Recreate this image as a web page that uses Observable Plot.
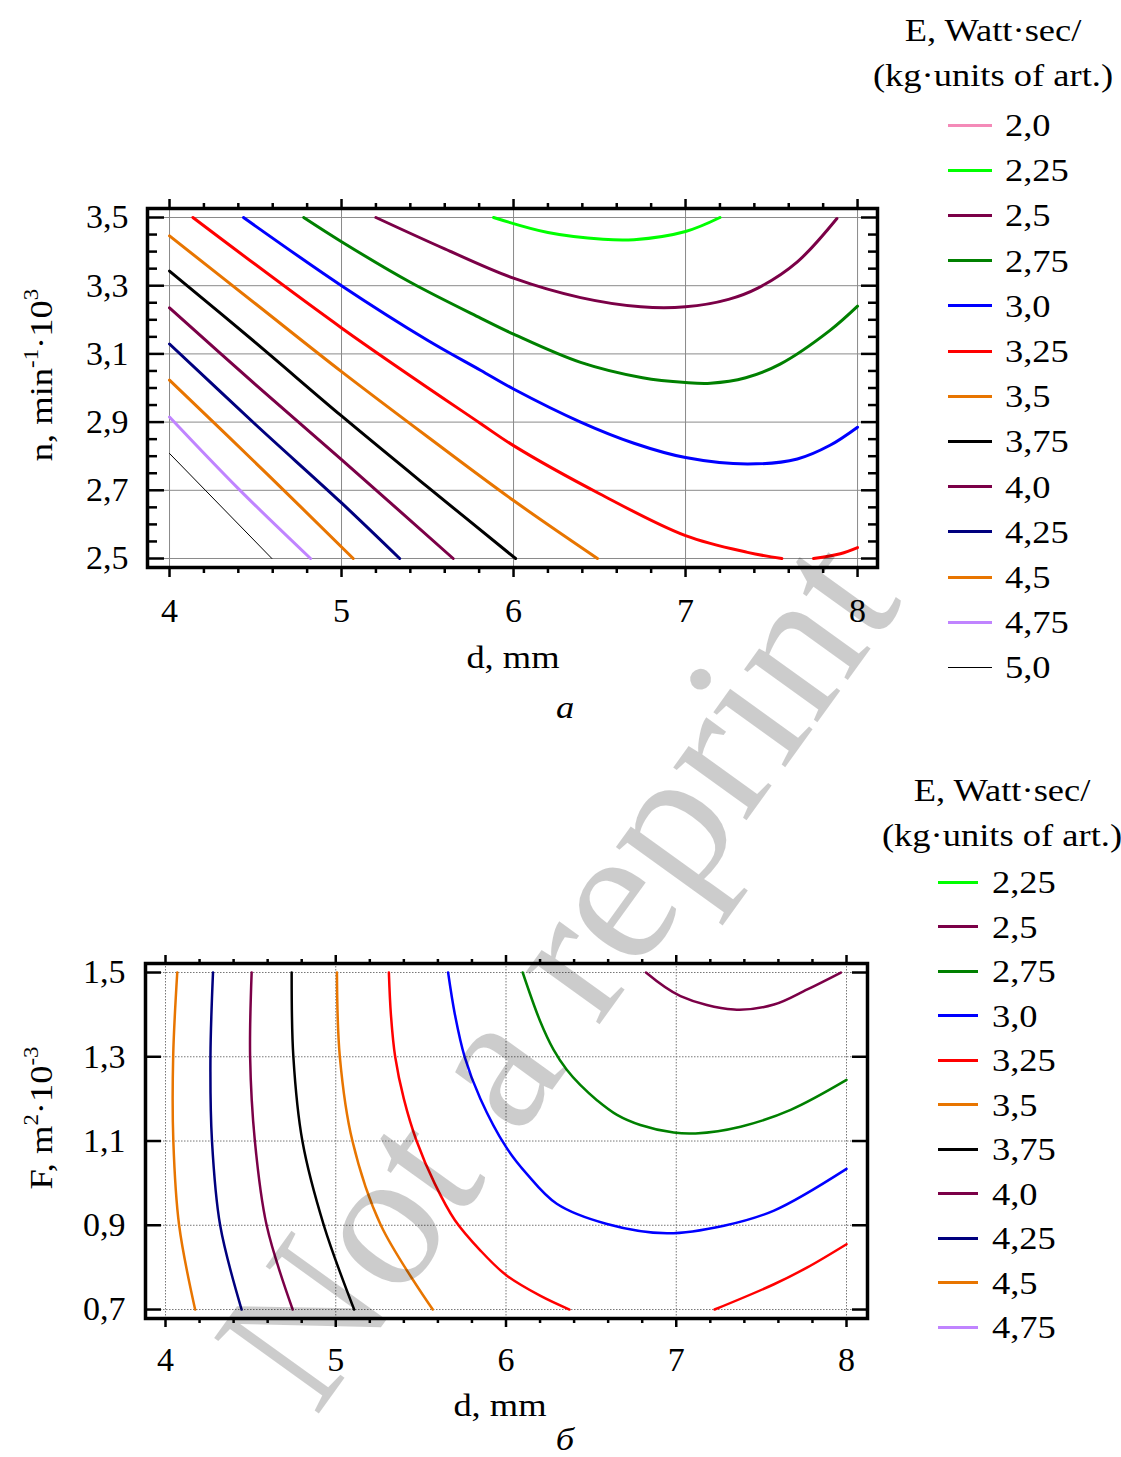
<!DOCTYPE html>
<html><head><meta charset="utf-8">
<script src="https://cdn.jsdelivr.net/npm/d3@7"></script>
<script src="https://cdn.jsdelivr.net/npm/@observablehq/plot@0.6"></script>
<style>
body{margin:0;background:#fff;}
#root{position:relative;width:1121px;height:1457px;overflow:hidden;font-family:"Liberation Serif","Times New Roman",serif;color:#000;}
.abs{position:absolute;white-space:nowrap;line-height:1;}
.t32{font-size:32px;}
.ctr{transform:translate(-50%,-50%) scaleX(1.14);}
.rot{transform:translate(-50%,-50%) rotate(-90deg) scaleX(1.14);}
.lft{transform-origin:0 50%;transform:translateY(-50%) scaleX(1.14);}
sup{font-size:20px;vertical-align:0;position:relative;top:-14px;}
.sw{position:absolute;height:3px;}
#wm{position:absolute;font-size:197px;color:rgba(0,0,0,0.2);transform:translate(-50%,-50%) rotate(-54.2deg);white-space:nowrap;line-height:1;pointer-events:none;}
</style></head><body><div id="root"></div>
<script>
// ---------- data: chart a (d, mm ; n, min^-1·10^3) ----------
const levelsA = [2.0, 2.25, 2.5, 2.75, 3.0, 3.25, 3.5, 3.75, 4.0, 4.25, 4.5, 4.75, 5.0];
const levelLabelsA = ["2,0","2,25","2,5","2,75","3,0","3,25","3,5","3,75","4,0","4,25","4,5","4,75","5,0"];
const a_225 = [[5.884,3.5],[6.2,3.456],[6.52,3.436],[6.70,3.435],[7.0,3.459],[7.2,3.5]];
const a_250 = [[5.2,3.5],[5.6,3.408],[6.0,3.322],[6.39,3.265],[6.74,3.238],[7.0,3.238],[7.25,3.26],[7.42,3.293],[7.65,3.37],[7.88,3.497]];
const a_275 = [[4.78,3.5],[5.0,3.429],[5.4,3.31],[5.808,3.205],[6.0,3.158],[6.39,3.075],[6.75,3.03],[7.0,3.016],[7.145,3.014],[7.35,3.03],[7.55,3.07],[7.84,3.169],[8.0,3.24]];
const a_300 = [[4.43,3.5],[5.0,3.3],[5.5,3.14],[5.808,3.052],[6.0,2.997],[6.39,2.9],[6.7,2.838],[7.0,2.796],[7.36,2.777],[7.65,2.792],[7.84,2.832],[8.0,2.885]];
const a_325a = [[4.136,3.5],[5.006,3.174],[5.808,2.896],[6.0,2.831],[6.5,2.69],[7.0,2.567],[7.36,2.518],[7.56,2.5]];
const a_325b = [[7.744,2.5],[7.9,2.514],[8.0,2.532]];
const a_350 = [[4.0,3.446],[4.5,3.247],[5.0,3.048],[5.5,2.857],[6.0,2.67],[6.488,2.5]];
const a_375 = [[4.0,3.343],[4.5,3.133],[5.0,2.918],[5.5,2.71],[6.012,2.5]];
const a_400 = [[4.0,3.235],[4.5,3.01],[5.0,2.79],[5.649,2.5]];
const a_425 = [[4.0,3.129],[4.5,2.893],[5.0,2.663],[5.338,2.5]];
const a_450 = [[4.0,3.023],[4.571,2.746],[5.068,2.5]];
const a_475 = [[4.0,2.915],[4.4,2.705],[4.82,2.5]];
const a_500 = [[4.0,2.808],[4.595,2.5]];
const xTicksA = [4, 5, 6, 7, 8];
const yTicksA = [2.5, 2.7, 2.9, 3.1, 3.3, 3.5];

// ---------- data: chart б (d, mm ; F, m^2·10^-3) ----------
const levelsB = [2.25, 2.5, 2.75, 3.0, 3.25, 3.5, 3.75, 4.0, 4.25, 4.5, 4.75];
const levelLabelsB = ["2,25","2,5","2,75","3,0","3,25","3,5","3,75","4,0","4,25","4,5","4,75"];
const b_250 = [[6.822,1.5],[7.025,1.444],[7.339,1.412],[7.574,1.424],[7.77,1.46],[7.967,1.5]];
const b_275 = [[6.098,1.5],[6.2,1.385],[6.279,1.317],[6.357,1.269],[6.436,1.233],[6.534,1.197],[6.652,1.162],[6.789,1.138],[6.985,1.12],[7.113,1.118],[7.378,1.134],[7.672,1.174],[8.0,1.245]];
const b_300 = [[5.66,1.5],[5.70,1.4],[5.757,1.3],[5.85,1.2],[6.0,1.086],[6.122,1.022],[6.298,0.951],[6.593,0.903],[6.946,0.881],[7.28,0.899],[7.574,0.935],[8.0,1.034]];
const b_325a = [[5.312,1.5],[5.324,1.4],[5.349,1.3],[5.40,1.2],[5.475,1.1],[5.58,1.0],[5.70,0.912],[5.85,0.84],[6.0,0.782],[6.2,0.733],[6.373,0.7]];
const b_325b = [[7.225,0.7],[7.574,0.76],[7.77,0.8],[8.0,0.855]];
const b_350 = [[5.007,1.5],[5.024,1.3],[5.098,1.1],[5.265,0.9],[5.57,0.7]];
const b_375 = [[4.741,1.5],[4.751,1.3],[4.804,1.1],[4.93,0.9],[5.108,0.7]];
const b_400 = [[4.506,1.5],[4.497,1.3],[4.525,1.1],[4.594,0.9],[4.747,0.7]];
const b_425 = [[4.279,1.5],[4.264,1.3],[4.273,1.1],[4.321,0.9],[4.447,0.7]];
const b_450 = [[4.069,1.5],[4.045,1.3],[4.046,1.1],[4.08,0.9],[4.174,0.7]];
const xTicksB = [4, 5, 6, 7, 8];
const yTicksB = [0.7, 0.9, 1.1, 1.3, 1.5];

// ---------- styles ----------
const levelColor = {
  "2": "#f48ab8", "2.25": "#00ff00", "2.5": "#7b0047", "2.75": "#008000", "3": "#0000ff",
  "3.25": "#ff0000", "3.5": "#e87500", "3.75": "#000000", "4": "#7b0047", "4.25": "#00007e",
  "4.5": "#e87500", "4.75": "#c084ff", "5": "#000000"
};

const contoursA = [
  {level: 2.25, pts: a_225}, {level: 2.5, pts: a_250}, {level: 2.75, pts: a_275},
  {level: 3.0, pts: a_300}, {level: 3.25, pts: a_325a}, {level: 3.25, pts: a_325b},
  {level: 3.5, pts: a_350}, {level: 3.75, pts: a_375}, {level: 4.0, pts: a_400},
  {level: 4.25, pts: a_425}, {level: 4.5, pts: a_450}, {level: 4.75, pts: a_475},
  {level: 5.0, pts: a_500, thin: true}
];
const contoursB = [
  {level: 2.5, pts: b_250}, {level: 2.75, pts: b_275}, {level: 3.0, pts: b_300},
  {level: 3.25, pts: b_325a}, {level: 3.25, pts: b_325b},
  {level: 3.5, pts: b_350}, {level: 3.75, pts: b_375},
  {level: 4.0, pts: b_400}, {level: 4.25, pts: b_425},
  {level: 4.5, pts: b_450}
];

const comma = v => v.toFixed(1).replace(".", ",");
const font = "'Liberation Serif','Times New Roman',serif";

function axes(xTicks, xMinor, yTicks, yMinor, opt) {
  const m = [];
  m.push(Plot.axisX(xTicks, {anchor: "bottom", tickSize: 0, tickPadding: opt.xPad, tickFormat: d => String(d), fontSize: 34, label: null}));
  m.push(Plot.axisX(xTicks, {anchor: "bottom", tickSize: opt.xMaj, text: null, label: null, strokeWidth: 2.5}));
  m.push(Plot.axisX(xMinor, {anchor: "bottom", tickSize: opt.xMin, text: null, label: null, strokeWidth: 2.5}));
  m.push(Plot.axisX(xTicks, {anchor: "top", tickSize: opt.xMaj, text: null, label: null, strokeWidth: 2.5}));
  m.push(Plot.axisX(xMinor, {anchor: "top", tickSize: opt.xMin, text: null, label: null, strokeWidth: 2.5}));
  m.push(Plot.axisY(yTicks, {anchor: "left", tickSize: 0, tickPadding: opt.yPad, tickFormat: comma, fontSize: 34, label: null}));
  m.push(Plot.axisY(yTicks, {anchor: "right", frameAnchor: "left", tickSize: opt.yMaj, text: null, label: null, strokeWidth: 2.5}));
  m.push(Plot.axisY(yTicks, {anchor: "left", frameAnchor: "right", tickSize: opt.yMaj, text: null, label: null, strokeWidth: 2.5}));
  if (yMinor) {
    m.push(Plot.axisY(yMinor, {anchor: "right", frameAnchor: "left", tickSize: opt.yMin, text: null, label: null, strokeWidth: 2.5}));
    m.push(Plot.axisY(yMinor, {anchor: "left", frameAnchor: "right", tickSize: opt.yMin, text: null, label: null, strokeWidth: 2.5}));
  }
  return m;
}

function lines(contours, width) {
  return contours.map(c => Plot.line(c.pts, {
    x: p => p[0], y: p => p[1], stroke: levelColor[String(c.level)],
    strokeWidth: c.thin ? 1 : width, curve: "catmull-rom", clip: true
  }));
}

const xMinorA = d3.range(4, 8.0001, 0.2).map(v => +v.toFixed(2)).filter(v => !xTicksA.includes(v));
const yMinorA = d3.range(2.5, 3.5001, 0.05).map(v => +v.toFixed(2)).filter(v => !yTicksA.some(t => Math.abs(t - v) < 1e-6));
const xMinorB = d3.range(4, 8.0001, 0.2).map(v => +v.toFixed(2)).filter(v => !xTicksB.includes(v));

const plotA = Plot.plot({
  width: 900, height: 700,
  marginTop: 208, marginBottom: 133, marginLeft: 147, marginRight: 23,
  x: {domain: [3.872, 8.116]},
  y: {domain: [2.4736, 3.5264]},
  style: {fontFamily: font, fontSize: "34px", background: "transparent", color: "black", overflow: "visible"},
  marks: [
    Plot.gridX(xTicksA, {stroke: "#8a8a8a", strokeOpacity: 1, strokeWidth: 1}),
    Plot.gridY(yTicksA, {stroke: "#8a8a8a", strokeOpacity: 1, strokeWidth: 1}),
    ...lines(contoursA, 3),
    ...axes(xTicksA, xMinorA, yTicksA, yMinorA, {xPad: 30, xMaj: 10, xMin: 6, yPad: 19, yMaj: 16, yMin: 9}),
    Plot.frame({stroke: "black", strokeWidth: 3.5})
  ]
});

const plotB = Plot.plot({
  width: 900, height: 757,
  marginTop: 263, marginBottom: 139, marginLeft: 145, marginRight: 33,
  x: {domain: [3.8825, 8.1233]},
  y: {domain: [0.6787, 1.5214]},
  style: {fontFamily: font, fontSize: "34px", background: "transparent", color: "black", overflow: "visible"},
  marks: [
    Plot.gridX(xTicksB, {stroke: "#777", strokeOpacity: 1, strokeWidth: 1, strokeDasharray: "1.5,1.5"}),
    Plot.gridY(yTicksB, {stroke: "#777", strokeOpacity: 1, strokeWidth: 1, strokeDasharray: "1.5,1.5"}),
    ...lines(contoursB, 2.5),
    ...axes(xTicksB, xMinorB, yTicksB, null, {xPad: 28, xMaj: 9, xMin: 5, yPad: 20, yMaj: 15}),
    Plot.frame({stroke: "black", strokeWidth: 3.5})
  ]
});

const root = document.getElementById("root");
plotA.style.position = "absolute"; plotA.style.left = "0px"; plotA.style.top = "0px";
plotB.style.position = "absolute"; plotB.style.left = "0px"; plotB.style.top = "700px";
root.appendChild(plotA);
root.appendChild(plotB);

function addText(html, x, y, cls, extra) {
  const d = document.createElement("div");
  d.className = "abs " + cls;
  d.style.left = x + "px"; d.style.top = y + "px";
  d.innerHTML = html;
  if (extra) Object.assign(d.style, extra);
  root.appendChild(d);
  return d;
}

// axis titles and captions
addText("n, min<sup>-1</sup>·10<sup>3</sup>", 41, 375, "t32 rot");
addText("d, mm", 513, 657, "t32 ctr");
addText("a", 565, 707, "t32 ctr", {fontStyle: "italic"});
addText("F, m<sup>2</sup>·10<sup>-3</sup>", 41, 1118, "t32 rot");
addText("d, mm", 500, 1405, "t32 ctr");
addText("б", 565, 1439, "t32 ctr", {fontStyle: "italic"});

// legends
function legend(levels, labels, cx, titleY, swX, swW, txtX, y0, dy) {
  addText("E, Watt·sec/", cx, titleY, "t32 ctr");
  addText("(kg·units of art.)", cx, titleY + 45, "t32 ctr");
  levels.forEach((lv, i) => {
    const y = y0 + i * dy;
    const s = document.createElement("div");
    s.className = "sw";
    s.style.left = swX + "px"; s.style.width = swW + "px";
    s.style.top = (y - 1.5) + "px";
    s.style.background = levelColor[String(lv)];
    if (lv === 5.0) { s.style.height = "1px"; s.style.top = (y - 0.5) + "px"; }
    root.appendChild(s);
    addText(labels[i], txtX, y, "t32 lft");
  });
}
legend(levelsA, levelLabelsA, 993, 30, 948, 44, 1005, 125, 45.2);
legend(levelsB, levelLabelsB, 1002, 790, 938, 40, 992, 882, 44.5);

// watermark
const wm = document.createElement("div");
wm.id = "wm"; wm.textContent = "Not a reprint";
wm.style.left = "556px"; wm.style.top = "971px";
root.appendChild(wm);
</script></body></html>
